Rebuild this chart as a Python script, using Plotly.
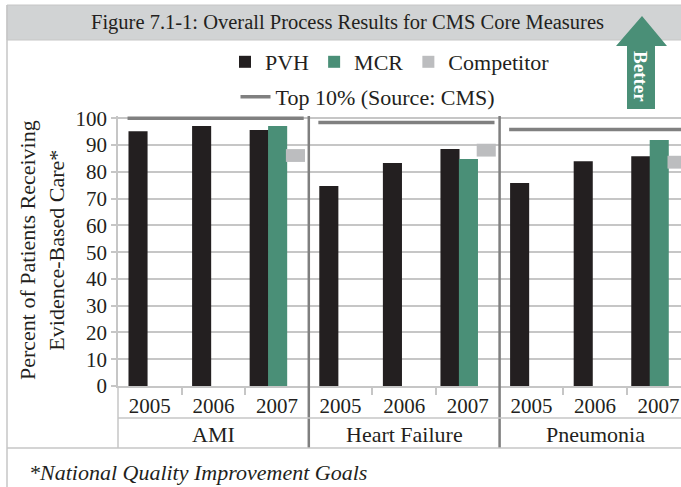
import plotly.graph_objects as go

# ---------------- data ----------------
measures = ["AMI", "Heart Failure", "Pneumonia"]
years = ["2005", "2006", "2007"]
pvh = [[95.2, 97.1, 95.6], [74.7, 83.3, 88.5], [75.8, 84.0, 85.8]]
mcr_2007 = [97.1, 84.8, 91.9]
competitor_2007 = [86.1, 88.1, 83.6]
top10 = [100.0, 98.4, 95.8]
y_ticks = list(range(0, 101, 10))

# ---------------- style / layout helpers ----------------
W_FIG, H_FIG = 681, 487
L, R, T, B = 118, 681, 116, 386
PW, PH = R - L, B - T
def px(x):
    return (x - L) / PW
def py(y):
    return (B - y) / PH

FONT = "Liberation Serif"
TXT = "#231f20"
C_PVH = "#231f20"
C_MCR = "#4a8f77"
C_COMP = "#bcbdbf"
C_TOP = "#808080"
C_GRID = "#c6c6c6"
BAR_W = 0.3
COMP_H = 4.8

n_years = len(years)
x_max = (R - L) / 63.6

pvh_x, pvh_y, pvh_off = [], [], []
mcr_x, comp_x, comp_base = [], [], []
for i, m in enumerate(measures):
    for j, yv in enumerate(years):
        c = i * n_years + j + 0.5
        pvh_x.append(c)
        pvh_y.append(pvh[i][j])
        pvh_off.append(-0.43 if j == n_years - 1 else -0.335)
    c7 = i * n_years + (n_years - 1) + 0.5
    mcr_x.append(c7)
    comp_x.append(c7)
    comp_base.append(competitor_2007[i] - COMP_H / 2)

fig = go.Figure()
fig.add_trace(go.Bar(name="PVH", x=pvh_x, y=pvh_y, offset=pvh_off, width=BAR_W,
                     marker=dict(color=C_PVH, line=dict(width=0)), legend="legend"))
fig.add_trace(go.Bar(name="MCR", x=mcr_x, y=mcr_2007, offset=-0.14, width=BAR_W,
                     marker=dict(color=C_MCR, line=dict(width=0)), legend="legend"))
fig.add_trace(go.Bar(name="Competitor", x=comp_x, y=[COMP_H] * len(comp_x),
                     base=comp_base, offset=0.14, width=BAR_W,
                     customdata=competitor_2007,
                     hovertemplate="Competitor: %{customdata}<extra></extra>",
                     marker=dict(color=C_COMP, line=dict(width=0)), legend="legend"))

lx, ly = [], []
for i, v in enumerate(top10):
    lx += [i * n_years + 0.15, i * n_years + n_years - 0.08, None]
    ly += [v, v, None]
fig.add_trace(go.Scatter(name="Top 10% (Source: CMS)", x=lx, y=ly, mode="lines",
                         line=dict(color=C_TOP, width=3.5), legend="legend2"))

shapes = []
shapes.append(dict(type="rect", xref="paper", yref="paper", x0=px(7), x1=1.02,
                   y0=py(40), y1=py(5), fillcolor="#d1d3d4",
                   line=dict(color=C_GRID, width=1), layer="below"))
shapes.append(dict(type="line", xref="paper", yref="paper", x0=px(7), x1=px(7),
                   y0=py(5), y1=py(490), line=dict(color=C_GRID, width=1.5)))
for i in range(1, len(measures)):
    shapes.append(dict(type="line", xref="x", yref="paper", x0=i * n_years, x1=i * n_years,
                       y0=py(448), y1=1, line=dict(color="#7f7f7f", width=2.5), layer="above"))
shapes.append(dict(type="line", xref="paper", yref="paper", x0=0, x1=1,
                   y0=py(418), y1=py(418), line=dict(color=C_GRID, width=1.5)))
shapes.append(dict(type="line", xref="paper", yref="paper", x0=px(7), x1=1,
                   y0=py(448), y1=py(448), line=dict(color=C_GRID, width=1.5)))
shapes.append(dict(type="line", xref="paper", yref="paper", x0=0, x1=0,
                   y0=0, y1=py(448), line=dict(color=C_GRID, width=1.5)))
pts = [(642, 16), (667, 46), (655, 46), (655, 109), (627, 109), (627, 46), (616, 46)]
path = "M " + " L ".join(f"{px(a):.5f},{py(b):.5f}" for a, b in pts) + " Z"
shapes.append(dict(type="path", xref="paper", yref="paper", path=path,
                   fillcolor=C_MCR, line=dict(width=0), layer="above"))

annotations = []
annotations.append(dict(text="Figure 7.1-1: Overall Process Results for CMS Core Measures",
                        xref="paper", yref="paper", x=px(347), y=py(22),
                        xanchor="center", yanchor="middle", showarrow=False,
                        font=dict(family=FONT, size=20.5, color=TXT)))
annotations.append(dict(text="<b>Better</b>", xref="paper", yref="paper",
                        x=px(641), y=py(76), textangle=90, showarrow=False,
                        xanchor="center", yanchor="middle",
                        font=dict(family=FONT, size=19, color="white")))
annotations.append(dict(text="Percent of Patients Receiving<br>Evidence-Based Care*",
                        xref="paper", yref="paper", x=px(42), y=py(250), textangle=-90,
                        showarrow=False, xanchor="center", yanchor="middle",
                        font=dict(family=FONT, size=22, color=TXT)))
for i, m in enumerate(measures):
    annotations.append(dict(text=m, xref="x", yref="paper", x=i * n_years + n_years / 2,
                            y=py(434), showarrow=False, xanchor="center", yanchor="middle",
                            font=dict(family=FONT, size=22, color=TXT)))
annotations.append(dict(text="<i>*National Quality Improvement Goals</i>",
                        xref="paper", yref="paper", x=px(27), y=py(472),
                        xanchor="left", yanchor="middle", showarrow=False,
                        font=dict(family=FONT, size=22, color=TXT)))

minor_vals = [i * n_years + j for i in range(len(measures)) for j in range(1, n_years)]

fig.update_layout(
    width=W_FIG, height=H_FIG,
    margin=dict(l=L, r=W_FIG - R, t=T, b=H_FIG - B, pad=0),
    paper_bgcolor="white", plot_bgcolor="white",
    barmode="overlay",
    font=dict(family=FONT, color=TXT),
    showlegend=True,
    legend=dict(orientation="h", x=px(390), xanchor="center", y=py(62), yanchor="middle",
                font=dict(family=FONT, size=22, color=TXT), bgcolor="rgba(0,0,0,0)",
                traceorder="normal"),
    legend2=dict(orientation="h", x=px(368), xanchor="center", y=py(97), yanchor="middle",
                 font=dict(family=FONT, size=22, color=TXT), bgcolor="rgba(0,0,0,0)"),
    xaxis=dict(range=[0, x_max], tickvals=pvh_x, ticktext=years * len(measures),
               ticks="", showgrid=False, zeroline=False, showline=True,
               linecolor=C_GRID, linewidth=1.5, ticklabelstandoff=0,
               tickfont=dict(family=FONT, size=21, color=TXT),
               minor=dict(tickvals=minor_vals, ticks="outside", ticklen=7,
                          tickcolor=C_GRID, tickwidth=1.5, showgrid=False)),
    yaxis=dict(range=[0, PH / 2.677], tickvals=y_ticks, showgrid=True, gridcolor=C_GRID,
               gridwidth=1.5, zeroline=False, showline=True, linecolor=C_GRID, linewidth=1.5,
               ticks="outside", ticklen=5, tickcolor=C_GRID, tickwidth=1.5,
               tickfont=dict(family=FONT, size=21, color=TXT)),
    shapes=shapes, annotations=annotations,
)

fig.write_html("out.html", config={"displayModeBar": False},
               post_script="document.body.style.margin='0';document.body.style.overflow='hidden';")
